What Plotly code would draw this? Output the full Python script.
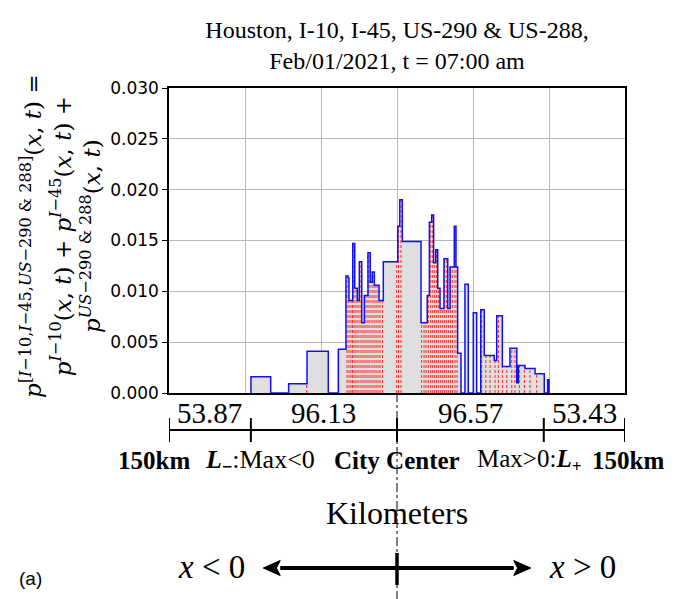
import plotly.graph_objects as go

# ---------------- data ----------------
# step-histogram bin edges (km from city center) and bar heights
edges = [-96.1, -83.1, -71.3, -59.2, -45.2, -38.6, -33.6, -32.2, -31.6, -29.1,
         -27.8, -26.1, -24.8, -23.2, -21.5, -19.1, -17.6, -16.3, -14.9, -11.8,
         -9.0, 0.5, 1.8, 3.5, 15.8, 19.9, 21.3, 22.8, 24.1, 25.5,
         26.8, 28.3, 30.9, 33.4, 34.9, 37.7, 38.8, 39.9, 42.1, 44.7,
         46.9, 50.2, 52.4, 55.1, 57.4, 64.0, 65.6, 69.3, 74.3, 78.8,
         79.8, 84.2, 90.8, 96.9, 99.1, 100.0]
heights = [0.0016, 0.0, 0.0009, 0.0041, 0.0, 0.0043, 0.0115, 0.0113, 0.0091,
           0.0147, 0.0103, 0.0091, 0.0129, 0.0069, 0.0096, 0.0138, 0.0109, 0.0119,
           0.0106, 0.0091, 0.0129, 0.0164, 0.0190, 0.0149, 0.0069, 0.0096, 0.0168,
           0.0175, 0.0128, 0.0141, 0.0103, 0.0083, 0.0132, 0.0083, 0.0124, 0.0164,
           0.0124, 0.0039, 0.0, 0.0107, 0.0, 0.0079, 0.0, 0.0082, 0.0037,
           0.0032, 0.0076, 0.0026, 0.0044, 0.0010, 0.0027, 0.0024, 0.0019, 0.0,
           0.0013]
# positions of the red dashed component boundaries (km)
red_x = [-59.4,
         -32.9, -31.6, -30.3, -29.3, -28.3, -27.0, -25.7, -24.3, -23.0, -21.7,
         -20.4, -19.1, -17.8, -16.4, -15.1, -13.8, -12.5, -11.2, -9.5,
         -0.2, 1.0, 2.6,
         16.2, 17.8, 19.1, 20.6, 22.2, 23.5, 24.8, 26.1, 27.4, 28.8, 30.1, 31.4,
         32.7, 34.0, 35.3, 36.6, 38.2, 39.5,
         55.7, 58.4, 61.2, 64.5, 66.7, 69.3, 72.2, 75.5, 77.6, 80.5, 83.8, 87.5, 91.9]

ruler_ticks = [-150, -96.13, 0, 96.57, 150]
ruler_labels = ["53.87", "96.13", "96.57", "53.43"]
arrow_tip = 88.0

# ---------------- helpers ----------------
PLOT_TOP, PLOT_BOT = 88, 393
PX_PER_KM = 456 / 300.0
def yp(pix):
    return (PLOT_BOT - pix) / (PLOT_BOT - PLOT_TOP)

def height_at(x):
    for i in range(len(heights)):
        if edges[i] <= x < edges[i + 1]:
            return heights[i]
    return 0.0

step_x = [edges[0]] + edges
step_y = [0.0] + heights + [0.0]

rx, ry = [], []
for x in red_x:
    rx += [x, x, None]
    ry += [0, height_at(x), None]

fig = go.Figure()
fig.add_trace(go.Scatter(x=step_x, y=step_y, mode="lines", line=dict(shape="hv", width=0),
                         fill="tozeroy", fillcolor="#dfdfdf", hoverinfo="skip", showlegend=False))
fig.add_trace(go.Scatter(x=rx, y=ry, mode="lines", line=dict(color="#ff2a2a", width=1, dash="3px,2px"),
                         hoverinfo="skip", showlegend=False))
fig.add_trace(go.Scatter(x=step_x, y=step_y, mode="lines", line=dict(shape="hv", color="#1010f0", width=1.5),
                         hoverinfo="skip", showlegend=False))

serif = "Liberation Serif"
ann = []
# ruler segment labels
for i, lab in enumerate(ruler_labels):
    ann.append(dict(x=(ruler_ticks[i] + ruler_ticks[i + 1]) / 2, xref="x", y=yp(413), yref="paper",
                    text=lab, showarrow=False, font=dict(family=serif, size=29, color="black"),
                    xanchor="center", yanchor="middle"))
# bottom labels
lab_font = dict(family=serif, size=25, color="black")
ann += [
    dict(x=-0.032, xref="paper", y=yp(461), yref="paper", text="<b>150km</b>", showarrow=False,
         font=lab_font, xanchor="center", yanchor="middle"),
    dict(x=-90, xref="x", y=yp(461), yref="paper", text="<b><i>L</i><sub>−</sub></b>:Max&lt;0",
         showarrow=False, font=dict(family=serif, size=26, color="black"), xanchor="center", yanchor="middle"),
    dict(x=0, xref="x", y=yp(461), yref="paper", text="<b>City Center</b>", showarrow=False,
         font=lab_font, xanchor="center", yanchor="middle"),
    dict(x=87, xref="x", y=yp(461), yref="paper", text="Max&gt;0:<b><i>L</i><sub>+</sub></b>",
         showarrow=False, font=lab_font, xanchor="center", yanchor="middle"),
    dict(x=1.006, xref="paper", y=yp(461), yref="paper", text="<b>150km</b>", showarrow=False,
         font=lab_font, xanchor="center", yanchor="middle"),
    dict(x=0, xref="x", y=yp(513), yref="paper", text="Kilometers", showarrow=False,
         font=dict(family=serif, size=32, color="black"), xanchor="center", yanchor="middle"),
    dict(x=-122, xref="x", y=yp(567), yref="paper", text="<i>x</i> &lt; 0", showarrow=False,
         font=dict(family=serif, size=33, color="black"), xanchor="center", yanchor="middle"),
    dict(x=122, xref="x", y=yp(567), yref="paper", text="<i>x</i> &gt; 0", showarrow=False,
         font=dict(family=serif, size=33, color="black"), xanchor="center", yanchor="middle"),
    dict(x=(30 - 169) / 456, xref="paper", y=yp(578), yref="paper", text="(a)", showarrow=False,
         font=dict(family="Liberation Sans", size=19, color="black"), xanchor="center", yanchor="middle"),
]
# y-axis title
ytitle = ("<i>p</i><sup>[<i>I</i>−10,<i>I</i>−45,<i>US</i>−290 & 288]</sup>(<i>x</i>, <i>t</i>) ="
          "<br><i>p</i><sup><i>I</i>−10</sup>(<i>x</i>, <i>t</i>) + <i>p</i><sup><i>I</i>−45</sup>(<i>x</i>, <i>t</i>) +"
          "<br><i>p</i><sup><i>US</i>−290 & 288</sup>(<i>x</i>, <i>t</i>)")
ann.append(dict(x=(60 - 169) / 456, xref="paper", y=yp(236), yref="paper", text=ytitle, textangle=-90,
                showarrow=False, font=dict(family="DejaVu Serif", size=23, color="black"),
                xanchor="center", yanchor="middle", align="center"))

shapes = []
# ruler
shapes.append(dict(type="line", xref="x", yref="paper", x0=ruler_ticks[0], x1=ruler_ticks[-1],
                   y0=yp(430), y1=yp(430), line=dict(color="black", width=2)))
for t in ruler_ticks:
    shapes.append(dict(type="line", xref="x", yref="paper", x0=t, x1=t, y0=yp(418), y1=yp(442),
                       line=dict(color="black", width=2)))
# dash-dot center line
shapes.append(dict(type="line", xref="x", yref="paper", x0=0, x1=0, y0=0, y1=yp(599),
                   line=dict(color="black", width=1, dash="dashdot")))
# double arrow (shaft + filled heads)
ay = yp(568)
head_len = 17 / PX_PER_KM
head_half = 7.5 / (PLOT_BOT - PLOT_TOP)
shapes.append(dict(type="line", xref="x", yref="paper", x0=-arrow_tip + head_len, x1=arrow_tip - head_len,
                   y0=ay, y1=ay, line=dict(color="black", width=4)))
for s in (-1, 1):
    tip = s * arrow_tip
    base = tip - s * head_len
    shapes.append(dict(type="path", xref="x", yref="paper",
                       path=f"M {tip} {ay} L {base} {ay + head_half} L {base + s * 2.5} {ay} L {base} {ay - head_half} Z",
                       fillcolor="black", line=dict(color="black", width=1)))
# arrow center tick
shapes.append(dict(type="line", xref="x", yref="paper", x0=0, x1=0, y0=yp(553), y1=yp(585),
                   line=dict(color="black", width=3.5)))

fig.update_layout(
    width=676, height=599,
    margin=dict(l=169, r=51, t=88, b=206),
    paper_bgcolor="white", plot_bgcolor="white",
    title=dict(text="Houston, I-10, I-45, US-290 & US-288,<br>Feb/01/2021, t = 07:00 am",
               x=0.5, xref="paper", xanchor="center", y=1 - 38 / 599, yref="container", yanchor="middle",
               font=dict(family=serif, size=24, color="black")),
    annotations=ann, shapes=shapes,
)
fig.update_xaxes(range=[-150, 150], dtick=50, showticklabels=False, ticks="", showgrid=True,
                 gridcolor="#b8b8b8", gridwidth=1, zeroline=False, showline=True, linecolor="black",
                 linewidth=1.5, mirror=True)
fig.update_yaxes(range=[0, 0.030], dtick=0.005, tickformat=".3f", ticks="outside", ticklen=5,
                 tickcolor="black", showgrid=True, gridcolor="#b8b8b8", gridwidth=1, zeroline=False,
                 showline=True, linecolor="black", linewidth=1.5, mirror=True,
                 tickfont=dict(family="DejaVu Sans", size=17, color="black"))

fig.write_html("out.html")
